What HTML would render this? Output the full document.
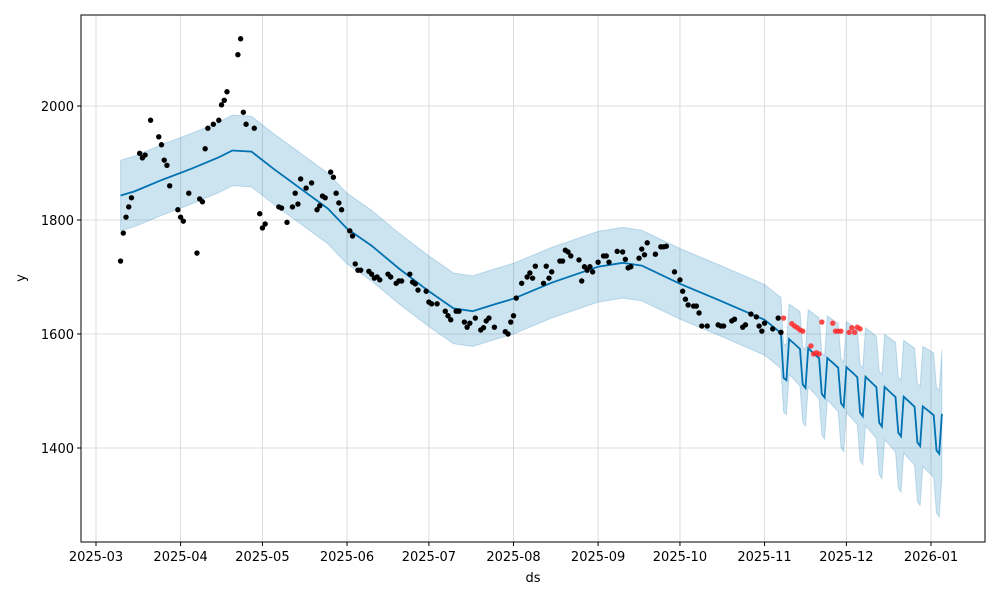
<!DOCTYPE html>
<html><head><meta charset="utf-8"><style>
html,body{margin:0;padding:0;background:#fff;}
svg text{font-family:"DejaVu Sans","Liberation Sans",sans-serif;font-size:13px;fill:#000;}
</style></head><body>
<svg id="chart" width="1000" height="600" xmlns="http://www.w3.org/2000/svg"></svg>
<script>
// days since 2025-03-01
const histDays=[9,10,11,12,13,16,17,18,20,23,24,25,26,27,30,31,32,34,37,38,39,40,41,43,45,46,47,48,52,53,54,55,58,60,61,62,67,68,70,72,74,73,75,77,79,81,82,83,84,86,87,88,89,90,93,94,95,96,97,100,101,102,103,104,107,108,110,111,112,115,116,117,118,121,122,123,125,128,129,130,132,133,135,136,137,139,141,142,143,144,146,150,151,152,153,154,156,158,159,160,161,164,165,166,167,170,171,172,173,174,177,178,179,180,181,182,184,186,187,188,191,193,194,195,196,199,200,201,202,205,207,208,209,212,214,215,216,217,219,220,221,222,224,228,229,230,233,234,237,238,240,242,243,244,245,248,250,251];
const histVals=[1728,1777,1805,1823,1839,1917,1909,1914,1975,1946,1932,1905,1896,1860,1818,1805,1798,1847,1742,1837,1832,1925,1961,1968,1975,2002,2010,2025,2090,2118,1989,1968,1961,1811,1786,1793,1823,1821,1796,1823,1828,1847,1872,1856,1865,1818,1825,1842,1839,1884,1875,1847,1830,1818,1781,1772,1723,1712,1712,1710,1705,1698,1700,1695,1705,1700,1689,1693,1693,1705,1691,1688,1677,1675,1656,1653,1653,1640,1632,1625,1640,1640,1621,1612,1619,1628,1607,1611,1623,1628,1612,1604,1600,1621,1632,1663,1689,1700,1707,1698,1719,1689,1719,1698,1709,1728,1728,1747,1744,1737,1730,1693,1718,1712,1718,1709,1726,1737,1737,1726,1745,1744,1731,1716,1718,1733,1749,1739,1760,1740,1753,1753,1754,1709,1695,1675,1661,1651,1649,1649,1637,1614,1614,1616,1614,1614,1623,1626,1612,1616,1635,1630,1614,1605,1619,1609,1628,1603];
const testDays=[252,255,256,257,258,259,262,263,264,265,266,270,271,272,273,276,277,278,279,280];
const testVals=[1628,1618,1614,1611,1607,1605,1579,1565,1567,1565,1621,1619,1605,1605,1605,1603,1611,1603,1612,1609];
const trendDays=[9,14,24,35,45,50,57,65,75,85,92,101,111,122,131,138,146,153,167,184,193,200,214,228,245,251];
const trendVals=[1843,1850,1870,1890,1910,1922,1920,1890,1855,1820,1785,1755,1715,1675,1645,1640,1652,1662,1690,1718,1725,1720,1688,1660,1625,1602];
const futMondays=[254,261,268,275,282,289,296,303,310];
const futLevels=[1591,1575,1558,1542,1525,1507,1490,1473,1460];
const weeklyOffsets=[0,-2,-4,-6,-8,-68,-72]; // Mon..Sun
const bandDays=[9,251,252,281,310];
const bandHalf=[62,62,60,85,112];
const xTickLabels=["2025-03","2025-04","2025-05","2025-06","2025-07","2025-08","2025-09","2025-10","2025-11","2025-12","2026-01"];
const xTickDays=[0,31,61,92,122,153,184,214,245,275,306];
const yTicks=[1400,1600,1800,2000];

const L=81,R=985,T=15,B=542;
const xS=d=>96+d*(931-96)/306;
const yS=v=>448-(v-1400)*0.57;
const NS="http://www.w3.org/2000/svg";
const svg=document.getElementById('chart');
function mk(tag,attrs,parent){const e=document.createElementNS(NS,tag);for(const k in attrs)e.setAttribute(k,attrs[k]);(parent||svg).appendChild(e);return e;}
function interp(xs,ys,x){if(x<=xs[0])return ys[0];for(let i=1;i<xs.length;i++){if(x<=xs[i]){const t=(x-xs[i-1])/(xs[i]-xs[i-1]);return ys[i-1]+t*(ys[i]-ys[i-1]);}}return ys[ys.length-1];}

// grid
const grid=mk('g',{});


xTickDays.forEach(d=>mk('line',{x1:xS(d),x2:xS(d),y1:T,y2:B,stroke:'#dcdcdc','stroke-width':1},grid));
yTicks.forEach(v=>mk('line',{x1:L,x2:R,y1:yS(v),y2:yS(v),stroke:'#dcdcdc','stroke-width':1},grid));

// forecast series
const pts=[];
trendDays.forEach((d,i)=>pts.push([d,trendVals[i]]));
for(let d=252;d<=310;d++){const dow=(d-252+5)%7;pts.push([d,interp(futMondays,futLevels,d)+weeklyOffsets[dow]]);}
const up=pts.map(p=>[xS(p[0]),yS(p[1]+interp(bandDays,bandHalf,p[0]))]);
const lo=pts.map(p=>[xS(p[0]),yS(p[1]-interp(bandDays,bandHalf,p[0]))]).reverse();
const band=mk('polygon',{points:up.concat(lo).map(p=>p[0].toFixed(1)+','+p[1].toFixed(1)).join(' '),fill:'#0072B2','fill-opacity':0.2,stroke:'#0072B2','stroke-opacity':0.2});


const line=mk('polyline',{points:pts.map(p=>xS(p[0]).toFixed(1)+','+yS(p[1]).toFixed(1)).join(' '),fill:'none',stroke:'#0072B2','stroke-width':1.8});



// points
const hg=mk('g',{});


histDays.forEach((d,i)=>{const c=mk('circle',{cx:xS(d),cy:yS(histVals[i]),r:2.7,fill:'#000'},hg);

});
const tg=mk('g',{});


testDays.forEach((d,i)=>{const c=mk('circle',{cx:xS(d),cy:yS(testVals[i]),r:2.7,fill:'#ff2a2a','fill-opacity':0.85},tg);

});

// frame
const fr=mk('rect',{x:L,y:T,width:R-L,height:B-T,fill:'none',stroke:'#000','stroke-width':1});



// ticks
xTickDays.forEach((d,i)=>{mk('line',{x1:xS(d),x2:xS(d),y1:B,y2:B+4,stroke:'#000'});
const t=mk('text',{x:xS(d),y:B+19,'text-anchor':'middle'});t.textContent=xTickLabels[i];

});
yTicks.forEach(v=>{mk('line',{x1:L-4,x2:L,y1:yS(v),y2:yS(v),stroke:'#000'});
const t=mk('text',{x:L-7,y:yS(v)+5,'text-anchor':'end'});t.textContent=v;

});
const xt=mk('text',{x:533,y:582,'text-anchor':'middle'});xt.textContent='ds';


const yt=mk('text',{x:0,y:0,'text-anchor':'middle',transform:'translate(25,278) rotate(-90)'});yt.textContent='y';


</script>
</body></html>
